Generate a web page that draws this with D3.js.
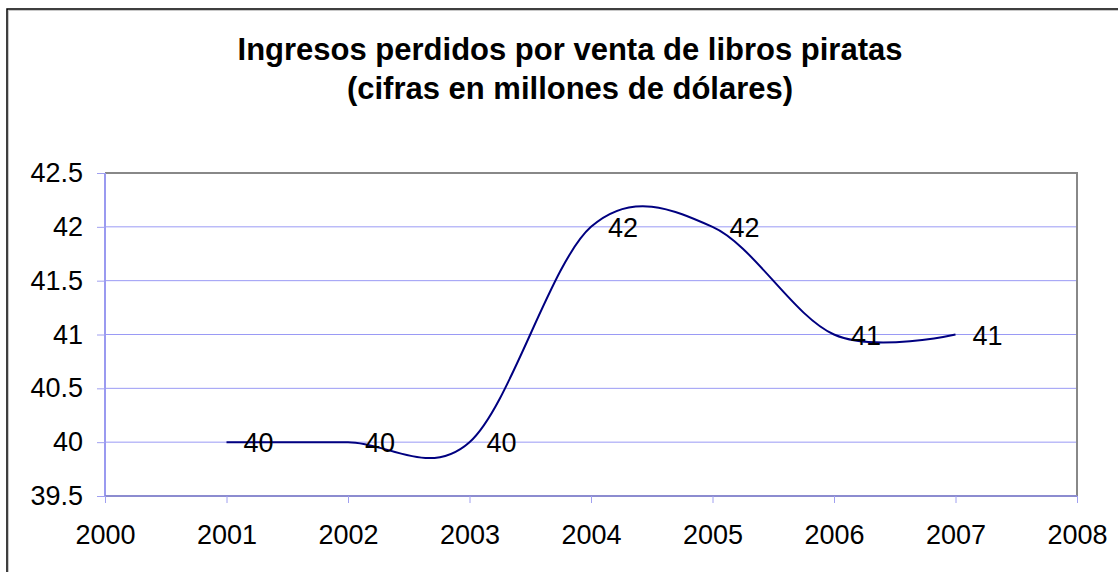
<!DOCTYPE html>
<head>
    <meta charset="utf-8">
    <script src="https://d3js.org/d3.v7.min.js"></script>
    <style>
        body { margin:0; background:#fff; }
        svg { display:block; font-family:"Liberation Sans", Arial, sans-serif; }
    </style>
</head>
<body>
    <svg id="chart" width="1118" height="572"></svg>
    <script>
        // chart data
        var years = [2001, 2002, 2003, 2004, 2005, 2006, 2007];
        var ingresos = [40, 40, 40, 42, 42, 41, 41];
        var xTicks = [2000, 2001, 2002, 2003, 2004, 2005, 2006, 2007, 2008];
        var yTicks = [39.5, 40, 40.5, 41, 41.5, 42, 42.5];
        var titleLines = ["Ingresos perdidos por venta de libros piratas", "(cifras en millones de dólares)"];

        var svg = d3.select("#chart");
        // plot area edges (don't call these top/left, window.top is taken)
        var pLeft = 105, pRight = 1077, pTop = 173, pBottom = 496;

        // outer chart border (runs off the window on right and bottom)
        svg.append("rect").attr("x", 8.5).attr("y", 10.5).attr("width", 1200).attr("height", 700)
            .attr("fill", "none").attr("stroke", "#c8c8c8").attr("stroke-width", 1);
        svg.append("rect").attr("x", 7).attr("y", 9).attr("width", 1200).attr("height", 700)
            .attr("fill", "none").attr("stroke", "#000").attr("stroke-width", 1.5);

        // title
        svg.selectAll(".title").data(titleLines).enter().append("text")
            .attr("class", "title")
            .attr("x", 570)
            .attr("y", function(d, i) { return 60 + i * 39; })
            .attr("text-anchor", "middle")
            .style("font-size", "31px")
            .style("font-weight", "bold")
            .text(function(d) { return d; });

        var x = d3.scaleLinear().domain([2000, 2008]).range([pLeft, pRight]);
        var y = d3.scaleLinear().domain([39.5, 42.5]).range([pBottom, pTop]);

        // gridlines
        svg.append("g").selectAll("line").data(yTicks.slice(1, -1)).enter().append("line")
            .attr("x1", pLeft).attr("x2", pRight)
            .attr("y1", function(d) { return y(d); }).attr("y2", function(d) { return y(d); })
            .attr("stroke", "#9a9af5").attr("stroke-width", 1);

        // plot border top / right
        svg.append("path")
            .attr("d", "M" + pLeft + "," + pTop + "H" + pRight + "V" + pBottom)
            .attr("fill", "none").attr("stroke", "#888").attr("stroke-width", 2);

        // axes
        var yAxis = svg.append("g").attr("transform", "translate(" + pLeft + ",0)")
            .call(d3.axisLeft(y).tickValues(yTicks).tickSize(8).tickPadding(14).tickFormat(d3.format("")));
        var xAxis = svg.append("g").attr("transform", "translate(0," + pBottom + ")")
            .call(d3.axisBottom(x).tickValues(xTicks).tickSize(7).tickPadding(22).tickFormat(d3.format("d")));

        yAxis.select(".domain").attr("d", "M0," + pTop + "V" + pBottom).attr("stroke", "#9a9af0").attr("stroke-width", 2);
        xAxis.select(".domain").attr("d", "M" + pLeft + ",0H" + pRight).attr("stroke", "#8c8cd0").attr("stroke-width", 2);
        svg.selectAll(".tick line").attr("stroke", "#a0a0f0");
        svg.selectAll(".tick text").attr("fill", "#000").style("font-size", "27px")
            .style("font-family", "'Liberation Sans', Arial, sans-serif");

        // smoothed series line
        var pts = years.map(function(d, i) { return [d, ingresos[i]]; });
        var line = d3.line()
            .x(function(d) { return x(d[0]); })
            .y(function(d) { return y(d[1]); })
            .curve(d3.curveCardinal.tension(0));
        svg.append("path").datum(pts)
            .attr("d", line)
            .attr("fill", "none").attr("stroke", "#000080").attr("stroke-width", 2);

        // data labels
        svg.selectAll(".lbl").data(pts).enter().append("text")
            .attr("class", "lbl")
            .attr("x", function(d) { return x(d[0]) + 17; })
            .attr("y", function(d) { return y(d[1]) + 10; })
            .style("font-size", "27px")
            .text(function(d) { return d3.format(".0f")(d[1]); });
    </script>
</body>
